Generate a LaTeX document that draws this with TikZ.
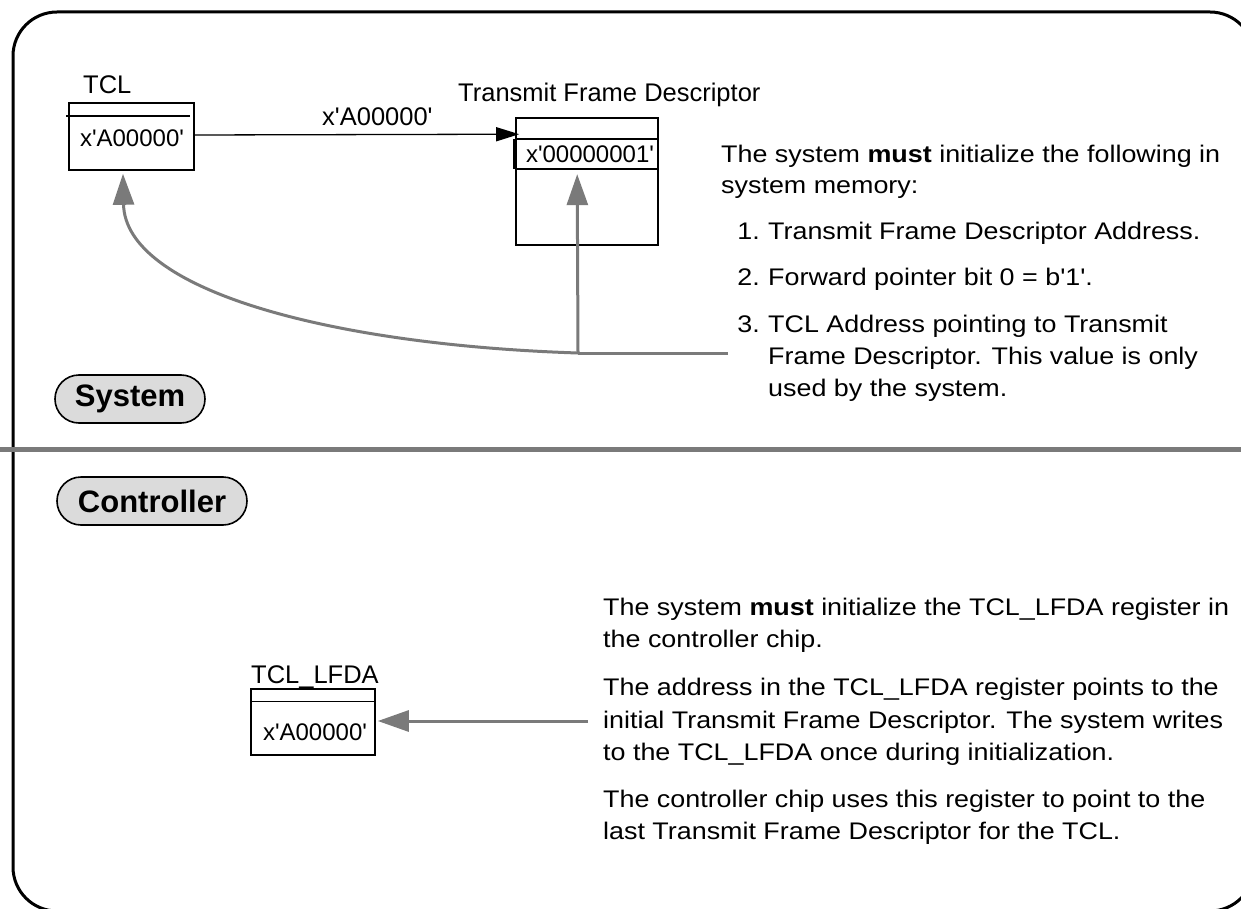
\documentclass[tikz,border=0pt]{standalone}
\usepackage{fontspec}
\newfontfamily\plainsans{Liberation Sans}
\newfontfamily\widesans[FakeStretch=1.12]{Liberation Sans}
\usetikzlibrary{arrows.meta,calc,shapes.misc}

\definecolor{hatch}{gray}{0.48}
\definecolor{pillfill}{gray}{0.86}

\newcommand\lblfont{\plainsans\fontsize{25.5}{30}\selectfont}
\newcommand\boxfont{\plainsans\fontsize{24}{28}\selectfont}
\newcommand\txtfont{\widesans\fontsize{24}{30}\selectfont}

\tikzset{
  frameline/.style={line width=3pt, rounded corners=44pt},
  regbox/.style={draw, line width=1.6pt, inner sep=0pt},
  rowline/.style={line width=1.4pt},
  lbl/.style={inner sep=0pt, font=\lblfont},
  cell/.style={inner sep=0pt, font=\boxfont},
  txt/.style={inner sep=0pt, anchor=base west, font=\txtfont},
  pill/.style={draw, line width=1.6pt, fill=pillfill, rounded rectangle,
    minimum height=48pt, inner sep=0pt, font=\plainsans\bfseries\fontsize{31}{31}\selectfont},
  ptr/.style={line width=1.3pt, -{Triangle[length=23pt,width=14pt]}},
  grayline/.style={draw=hatch, line width=3pt},
  grayptr/.style={grayline, -{Triangle[length=31pt,width=21pt,fill=hatch]}},
}

\begin{document}
\begin{tikzpicture}[x=1pt,y=-1pt]
\useasboundingbox (0,0) rectangle (1241,909);

% outer frame (runs past the right and bottom edges)
\draw[frameline] (13,12) rectangle (1254,911);

% section divider
\draw[grayline, line width=5pt] (0,449) -- (1241,449);

% section tags
\node[pill, minimum width=150pt] (sys) at (130,399) {System};
\node[pill, minimum width=190pt] (ctl) at (152,501) {Controller};

% ---------------- system memory ----------------
% TCL
\node[regbox, minimum width=125pt, minimum height=67pt] (tcl) at (131.5,136.5) {};
\draw[rowline] ($(tcl.north west)+(-2,14)$) -- ($(tcl.north east)+(-5,14)$);
\node[lbl, anchor=base west] (tcllbl) at (83,94) {TCL};
\node[cell, anchor=base] (tclval) at (132,147) {x'A00000'};

% Transmit Frame Descriptor
\node[regbox, minimum width=142pt, minimum height=127pt] (tfd) at (587,181.5) {};
\draw[rowline] ($(tfd.north west)+(0,22)$) -- ($(tfd.north east)+(0,22)$);
\draw[rowline] ($(tfd.north west)+(0,52)$) -- ($(tfd.north east)+(0,52)$);
\draw[line width=4pt] ($(tfd.north west)+(0,22)$) -- ($(tfd.north west)+(0,52)$);
\node[lbl, anchor=base west] (tfdlbl) at (458,102) {Transmit Frame Descriptor};
\node[cell, anchor=base] (tfdval) at (590,163) {x'00000001'};

% forward pointer
\draw[ptr] (tcl.east |- 0,135) -- ($(tfd.north west)+(4,17)$);
\node[lbl, anchor=base west] (ptrlbl) at (322,126) {x'A00000'};

% system-memory initialisation
\coordinate (src) at (728,353);
\coordinate (jn) at (578,353);
\draw[grayline] (src) -- (jn);
\draw[grayptr] (jn) -- ($(tfd.north west)+(62,57)$);
\draw[grayptr] (jn) .. controls (330,345) and (125,290) .. ($(tcl.south)+(-8.5,3)$);

\node[txt] (a1) at (721,163) {The system \textbf{must} initialize the following in};
\node[txt] (a2) at (721,194) {system memory:};
\node[txt, anchor=base east] (n1) at (760,240) {1.};
\node[txt] (a3) at (768,240) {Transmit Frame Descriptor Address.};
\node[txt, anchor=base east] (n2) at (760,285) {2.};
\node[txt] (a4) at (768,285) {Forward pointer bit 0 = b'1'.};
\node[txt, anchor=base east] (n3) at (760,332) {3.};
\node[txt] (a5) at (768,332) {TCL Address pointing to Transmit};
\node[txt] (a6) at (768,364) {Frame Descriptor. This value is only};
\node[txt] (a7) at (768,396) {used by the system.};

% ---------------- controller ----------------
\node[regbox, minimum width=124pt, minimum height=66pt] (lfda) at (313,722) {};
\draw[rowline] ($(lfda.north west)+(0,13)$) -- ($(lfda.north east)+(0,13)$);
\node[lbl, anchor=base west] (lfdalbl) at (251,683) {TCL\_LFDA};
\node[cell, anchor=base] (lfdaval) at (315,740) {x'A00000'};

\coordinate (src2) at (588,721);
\draw[grayptr] (src2) -- ($(lfda.east)+(2,-1)$);

\node[txt] (b1) at (603,615) {The system \textbf{must} initialize the TCL\_LFDA register in};
\node[txt] (b2) at (603,647) {the controller chip.};
\node[txt] (b3) at (603,695) {The address in the TCL\_LFDA register points to the};
\node[txt] (b4) at (603,728) {initial Transmit Frame Descriptor. The system writes};
\node[txt] (b5) at (603,760) {to the TCL\_LFDA once during initialization.};
\node[txt] (b6) at (603,807) {The controller chip uses this register to point to the};
\node[txt] (b7) at (603,839) {last Transmit Frame Descriptor for the TCL.};
\end{tikzpicture}
\end{document}
